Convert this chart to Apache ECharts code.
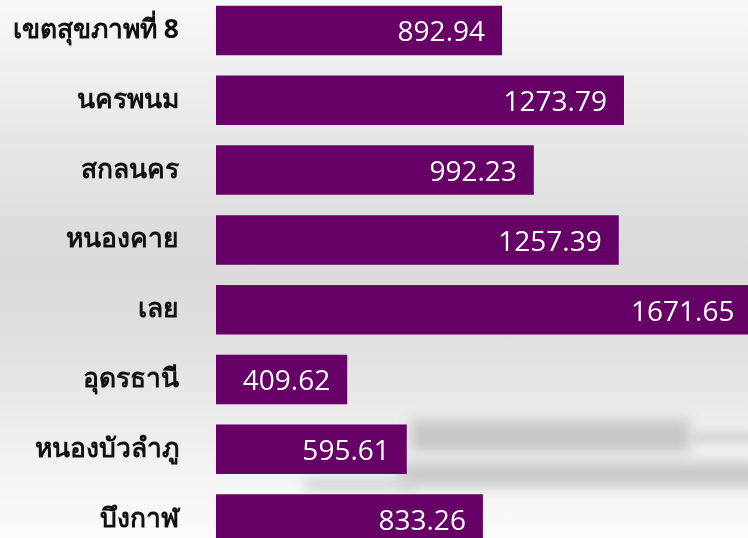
<!DOCTYPE html>
<html>
<head>
<meta charset="utf-8">
<script src="https://cdn.jsdelivr.net/npm/echarts@6/dist/echarts.min.js"></script>
<style>
  html, body { margin: 0; padding: 0; }
  #chart {
    width: 748px; height: 538px;
    background: linear-gradient(to bottom, #f8f8f8 0px, #e8e8e8 130px, #d9d9d9 265px, #e2e2e2 360px, #ececec 420px, #f6f6f6 495px, #fbfbfb 538px);
  }
</style>
</head>
<body>
<div id="chart"></div>
<script>
// จำนวนต่อประชากรแสนคน แยกรายจังหวัด เขตสุขภาพที่ 8
const categories = ['เขตสุขภาพที่ 8', 'นครพนม', 'สกลนคร', 'หนองคาย', 'เลย', 'อุดรธานี', 'หนองบัวลำภู', 'บึงกาฬ'];
const values = [892.94, 1273.79, 992.23, 1257.39, 1671.65, 409.62, 595.61, 833.26];

const chart = echarts.init(document.getElementById('chart'), null, { renderer: 'canvas' });

// soft grey streaks in the background: shapes sit off-canvas, only their blurred shadow shows
function streak(x, y, w, h, color, blur) {
  const shift = 3000;
  return {
    type: 'rect',
    silent: true,
    z: -10,
    shape: { x: x - shift, y: y, width: w, height: h },
    style: {
      fill: color,
      shadowColor: color,
      shadowBlur: blur,
      shadowOffsetX: shift,
      shadowOffsetY: 0
    }
  };
}

chart.setOption({
  backgroundColor: 'transparent',
  animation: false,
  grid: {
    left: 216, top: -4.4, width: 640.6, height: 558.4,
    containLabel: false,
    outerBoundsMode: 'none'
  },
  xAxis: {
    type: 'value',
    min: 0,
    max: 2000,
    show: false
  },
  yAxis: {
    type: 'category',
    data: categories,
    inverse: true,
    axisLine: { show: false },
    axisTick: { show: false },
    splitLine: { show: false },
    axisLabel: {
      margin: 37,
      color: '#111111',
      fontSize: 26.5,
      fontWeight: 'bold',
      fontFamily: 'Tahoma, "Noto Sans", "DejaVu Sans", sans-serif'
    }
  },
  graphic: [
    streak(410, 420, 280, 32, '#c6c6c6', 14),
    streak(690, 433, 80, 9, '#cfcfcf', 10),
    streak(400, 462, 380, 25, '#c8c8c8', 14),
    streak(305, 478, 110, 12, '#d3d3d3', 12)
  ],
  series: [{
    type: 'bar',
    data: values,
    barWidth: 49.5,
    itemStyle: { color: '#660066' },
    label: {
      show: true,
      position: 'insideRight',
      distance: 17,
      offset: [0, 3],
      color: '#ffffff',
      fontSize: 28,
      fontFamily: '"Open Sans", sans-serif'
    }
  }]
});
</script>
</body>
</html>
